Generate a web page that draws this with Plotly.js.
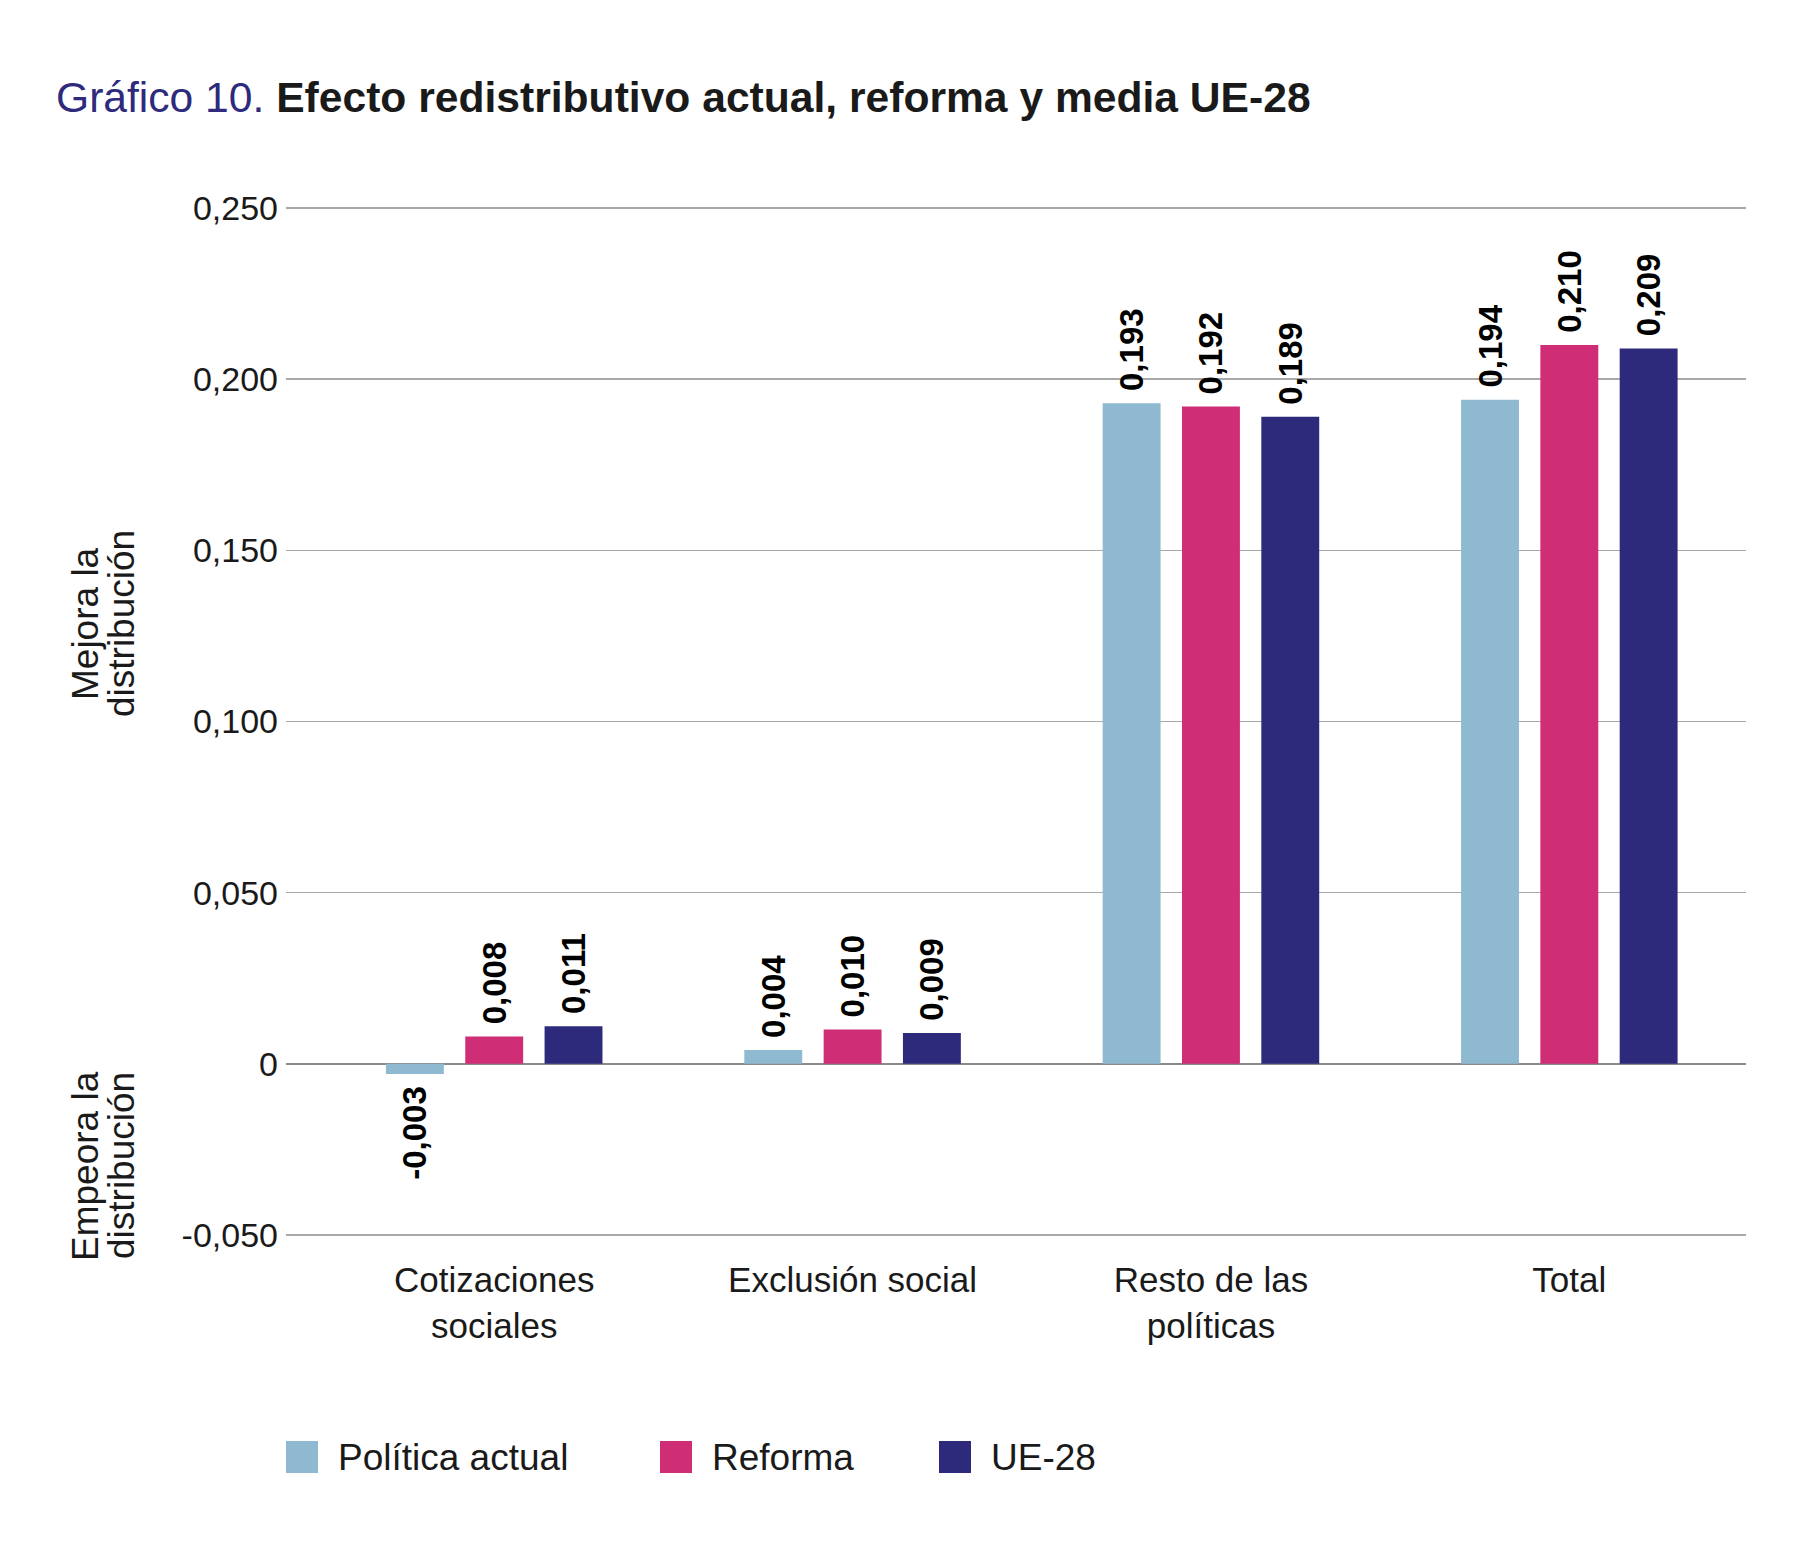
<!DOCTYPE html>
<html><head><meta charset="utf-8">
<script src="https://cdn.plot.ly/plotly-3.0.1.min.js"></script>
<style>html,body{margin:0;padding:0;background:#fff}#chart{width:1814px;height:1550px}</style>
</head><body><div id="chart"></div>
<script>
// ---- data ----
const categories = ["Cotizaciones<br>sociales", "Exclusión social", "Resto de las<br>políticas", "Total"];
const seriesNames = ["Política actual", "Reforma", "UE-28"];
const politicaActual = [-0.003, 0.004, 0.193, 0.194];
const reforma = [0.008, 0.010, 0.192, 0.210];
const ue28 = [0.011, 0.009, 0.189, 0.209];
const yTickVals = [-0.05, 0, 0.05, 0.10, 0.15, 0.20, 0.25];
const yTickText = ["-0,050", "0", "0,050", "0,100", "0,150", "0,200", "0,250"];

// ---- style ----
const seriesColors = ["#8fb9d0", "#cf2e77", "#2e2a7b"];
const FONT = "Liberation Sans, Arial, Helvetica, sans-serif";
const W = 1814, H = 1550;
const M = {l: 286, r: 68, t: 207, b: 314};
const PW = W - M.l - M.r, PH = H - M.t - M.b;
const px2x = px => (px - M.l) / PW;
const py2y = py => (H - M.b - py) / PH;

const fmt = v => v.toFixed(3).replace('.', ',');
const PAD = '\u00a0';
const labelText = vals => vals.map(v => v < 0 ? fmt(v) + PAD : PAD + fmt(v));

const seriesValues = [politicaActual, reforma, ue28];
const traces = seriesValues.map((vals, i) => ({
  type: 'bar',
  name: seriesNames[i],
  x: categories,
  y: vals,
  marker: {color: seriesColors[i], line: {width: 0}},
  text: labelText(vals),
  textposition: 'outside',
  textangle: -90,
  constraintext: 'none',
  cliponaxis: false,
  textfont: {family: FONT, size: 33, color: '#000000', weight: 'bold'},
  hoverinfo: 'x+y',
  showlegend: false
}));

// custom legend (large square swatches)
const legendSwatchX = [286, 660, 939];
const swatch = 32, legendY = 1457, legendGap = 18;
const shapes = seriesNames.map((n, i) => ({
  type: 'rect', xref: 'paper', yref: 'paper', layer: 'above',
  x0: px2x(legendSwatchX[i]), x1: px2x(legendSwatchX[i] + swatch),
  y0: py2y(legendY + swatch / 2), y1: py2y(legendY - swatch / 2),
  fillcolor: seriesColors[i], line: {width: 0}
}));
const annotations = seriesNames.map((n, i) => ({
  xref: 'paper', yref: 'paper', x: px2x(legendSwatchX[i] + swatch + legendGap), y: py2y(legendY),
  xanchor: 'left', yanchor: 'middle', showarrow: false, text: n,
  font: {family: FONT, size: 37, color: '#1a1a1a'}
}));

// side labels
const sideLines = [
  {t: 'Mejora la', x: 85, y: 624},
  {t: 'distribución', x: 121, y: 624},
  {t: 'Empeora la', x: 85, y: 1166},
  {t: 'distribución', x: 121, y: 1166}
];
sideLines.forEach(s => annotations.push({
  xref: 'paper', yref: 'paper', x: px2x(s.x), y: py2y(s.y),
  xanchor: 'center', yanchor: 'middle', showarrow: false, text: s.t, textangle: -90,
  font: {family: FONT, size: 37, color: '#1a1a1a'}
}));

const layout = {
  width: W, height: H,
  margin: M,
  paper_bgcolor: '#ffffff', plot_bgcolor: '#ffffff',
  separators: ',.',
  barmode: 'group',
  bargap: 0.336,
  bargroupgap: 0.27,
  showlegend: false,
  title: {
    text: '<span style="color:#2e2a7c">Gráfico 10.</span> <b>Efecto redistributivo actual, reforma y media UE-28</b>',
    font: {family: FONT, size: 42.6, color: '#1a1a1a'},
    xref: 'container', yref: 'container',
    x: 56 / W, xanchor: 'left',
    y: 1 - 97.5 / H, yanchor: 'middle'
  },
  xaxis: {
    type: 'category',
    range: [-0.581, 3.493],
    showgrid: false, zeroline: false, showline: false, ticks: '',
    tickfont: {family: FONT, size: 35, color: '#1a1a1a'},
    ticklabelstandoff: 20,
    fixedrange: true
  },
  yaxis: {
    range: [-0.0503, 0.2503],
    tickvals: yTickVals, ticktext: yTickText,
    showgrid: true, gridcolor: '#a8a8a8', gridwidth: 1.5,
    zeroline: true, zerolinecolor: '#8a8a8a', zerolinewidth: 1.5,
    showline: false, ticks: '',
    tickfont: {family: FONT, size: 34, color: '#1a1a1a'},
    ticklabelstandoff: 7,
    fixedrange: true
  },
  shapes: shapes,
  annotations: annotations
};

Plotly.newPlot('chart', traces, layout, {displayModeBar: false, staticPlot: true});
</script>
</body></html>
